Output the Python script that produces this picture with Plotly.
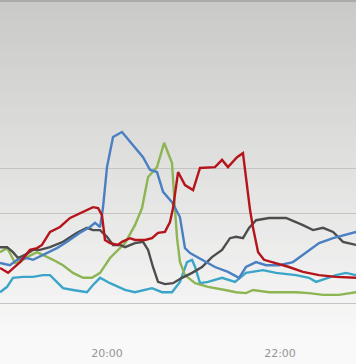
import pandas as pd
import plotly.graph_objects as go

# ---- data (time = minutes after 18:45, value in chart units) ----
red_t = [0.8, 6.4, 14.7, 21.6, 26.5, 29.9, 35.5, 42.4, 49.4, 56.3, 65.3, 68.8, 71.5, 73.6, 77.1, 82.6, 85.4,
         91.0, 94.4, 101.4, 106.2, 110.4, 115.2, 118.7, 120.8, 124.3, 129.1, 134.7, 139.5, 149.9, 154.8, 158.9,
         165.2, 169.3, 172.1, 174.2, 176.3, 179.8, 183.9, 192.2, 201.2, 210.9, 222.1, 233.8, 247.7]
red_v = [7.8, 6.7, 9.1, 11.8, 12.2, 12.9, 15.8, 16.9, 18.9, 20.0, 21.3, 21.1, 19.6, 14.0, 13.3, 12.9, 13.6,
         14.4, 14.0, 14.0, 14.4, 15.6, 15.8, 18.0, 21.1, 29.1, 26.2, 25.1, 30.0, 30.2, 31.8, 30.2,
         32.4, 33.3, 25.8, 20.7, 16.7, 11.3, 9.6, 8.9, 8.0, 6.9, 6.2, 5.8, 5.6]

blue_t = [0.8, 7.7, 12.6, 19.5, 23.7, 30.6, 40.3, 47.3, 56.3, 63.2, 66.7, 70.2, 72.2, 75.0, 79.2, 85.4, 93.0,
          100.0, 104.8, 109.7, 113.9, 120.1, 125.6, 129.1, 132.6, 140.9, 149.9, 158.9, 166.6, 171.4, 178.4,
          185.3, 194.3, 204.0, 213.0, 222.1, 231.8, 240.8, 247.7]
blue_v = [8.9, 8.4, 9.6, 10.0, 9.6, 10.7, 12.2, 13.6, 15.6, 16.9, 17.8, 16.9, 21.1, 30.2, 36.9, 38.0, 35.1,
          32.4, 29.6, 29.1, 24.7, 22.4, 19.1, 12.2, 11.1, 9.6, 8.0, 6.9, 5.6, 8.0, 9.1,
          8.4, 8.4, 9.1, 11.1, 13.3, 14.4, 15.1, 15.8]

green_t = [0.8, 5.7, 7.7, 11.2, 14.7, 19.5, 26.5, 30.6, 37.6, 44.5, 51.4, 58.4, 64.6, 70.2, 77.1, 84.0, 87.5,
           94.4, 99.3, 103.5, 109.7, 114.6, 120.1, 122.2, 123.6, 125.6, 129.1, 136.1, 145.1, 156.9, 164.5,
           171.4, 176.3, 187.4, 206.1, 215.1, 224.8, 235.9, 247.7]
green_v = [11.3, 12.2, 11.1, 8.9, 9.1, 10.2, 11.3, 10.7, 9.6, 8.4, 6.7, 5.6, 5.6, 6.7, 10.0, 12.2, 13.3,
           17.3, 21.1, 28.0, 30.2, 35.6, 31.1, 20.7, 14.4, 9.1, 6.2, 4.4, 3.6, 2.9, 2.4,
           2.2, 2.9, 2.4, 2.4, 2.2, 1.8, 1.8, 2.4]

black_t = [0.8, 5.7, 9.8, 13.3, 18.1, 23.7, 28.5, 35.5, 44.5, 54.2, 61.1, 65.3, 70.2, 75.0, 79.2, 84.0, 87.5,
           94.4, 100.0, 103.5, 106.9, 110.4, 115.2, 120.8, 127.0, 134.0, 140.9, 147.8, 154.8, 160.3, 164.5,
           169.3, 173.5, 178.4, 187.4, 199.2, 210.9, 217.9, 224.8, 231.8, 238.7, 247.7]
black_v = [12.4, 12.4, 11.3, 10.0, 10.7, 11.8, 11.8, 12.4, 13.6, 15.6, 16.7, 16.2, 16.2, 14.7, 12.9, 12.9, 12.4,
           13.3, 13.6, 11.8, 8.0, 4.7, 4.2, 4.4, 5.6, 6.7, 8.0, 10.2, 11.8, 14.4, 14.7,
           14.4, 16.7, 18.4, 18.9, 18.9, 17.3, 16.2, 16.7, 15.8, 13.6, 12.9]

cyan_t = [0.8, 5.7, 9.8, 16.8, 23.7, 30.6, 35.5, 40.3, 44.5, 51.4, 61.1, 65.3, 70.2, 77.1, 84.0, 87.5, 94.4,
          101.4, 106.2, 113.2, 120.1, 125.6, 130.5, 134.0, 136.1, 139.5, 145.1, 154.8, 163.8, 171.4, 183.2,
          192.2, 206.1, 215.1, 220.0, 228.3, 233.8, 240.8, 247.7]
cyan_v = [2.4, 3.6, 5.6, 5.8, 5.8, 6.2, 6.2, 4.7, 3.3, 2.9, 2.4, 4.0, 5.6, 4.4, 3.3, 2.9, 2.4,
          2.9, 3.3, 2.4, 2.4, 4.7, 9.1, 9.6, 8.0, 4.4, 4.7, 5.6, 4.7, 6.7, 7.3,
          6.7, 6.2, 5.6, 4.7, 5.6, 6.2, 6.7, 6.2]

tick_times = ["2024-01-01 20:00", "2024-01-01 22:00"]
tick_labels = ["20:00", "22:00"]
grid_values = [0, 20, 30]

base = pd.Timestamp("2024-01-01 18:45")


def to_x(ts):
    return base + pd.to_timedelta(ts, unit="min")


series = [
    (cyan_t, cyan_v, "#3ba5c9"),
    (green_t, green_v, "#8db553"),
    (black_t, black_v, "#4d4d4d"),
    (blue_t, blue_v, "#4a7fc1"),
    (red_t, red_v, "#b5141b"),
]

fig = go.Figure()
for t, v, c in series:
    fig.add_trace(go.Scatter(x=to_x(t), y=v, mode="lines",
                             line=dict(color=c, width=2.4), showlegend=False, hoverinfo="skip"))

# gradient background bands
shapes = []
n = 60
top = (201, 201, 199)
bot = (249, 249, 249)
for i in range(n):
    f = (i + 0.5) / n
    col = tuple(round(top[k] + (bot[k] - top[k]) * f) for k in range(3))
    shapes.append(dict(type="rect", xref="paper", yref="paper", x0=0, x1=1,
                       y1=1 - i / n, y0=1 - (i + 1) / n - 0.002,
                       fillcolor="rgb(%d,%d,%d)" % col, line=dict(width=0), layer="below"))
shapes.append(dict(type="line", xref="paper", yref="paper", x0=0, x1=1, y0=0.997, y1=0.997,
                   line=dict(color="#ababab", width=2), layer="below"))

fig.update_layout(
    width=356, height=364,
    margin=dict(l=0, r=0, t=0, b=24),
    paper_bgcolor="#f9f9f9",
    plot_bgcolor="rgba(0,0,0,0)",
    shapes=shapes,
    showlegend=False,
)
fig.update_xaxes(
    range=[to_x(0.8), to_x(247.7)],
    tickvals=pd.to_datetime(tick_times), ticktext=tick_labels,
    showgrid=False, zeroline=False, showline=False, ticks="",
    ticklabelstandoff=5,
    tickfont=dict(family="DejaVu Sans", size=11, color="#959595"),
)
fig.update_yaxes(
    range=[-8.22, 67.33], tickvals=grid_values, showticklabels=False,
    showgrid=True, gridcolor="#c4c4c4", gridwidth=1, zeroline=False, showline=False,
)
fig.write_html("out.html")
